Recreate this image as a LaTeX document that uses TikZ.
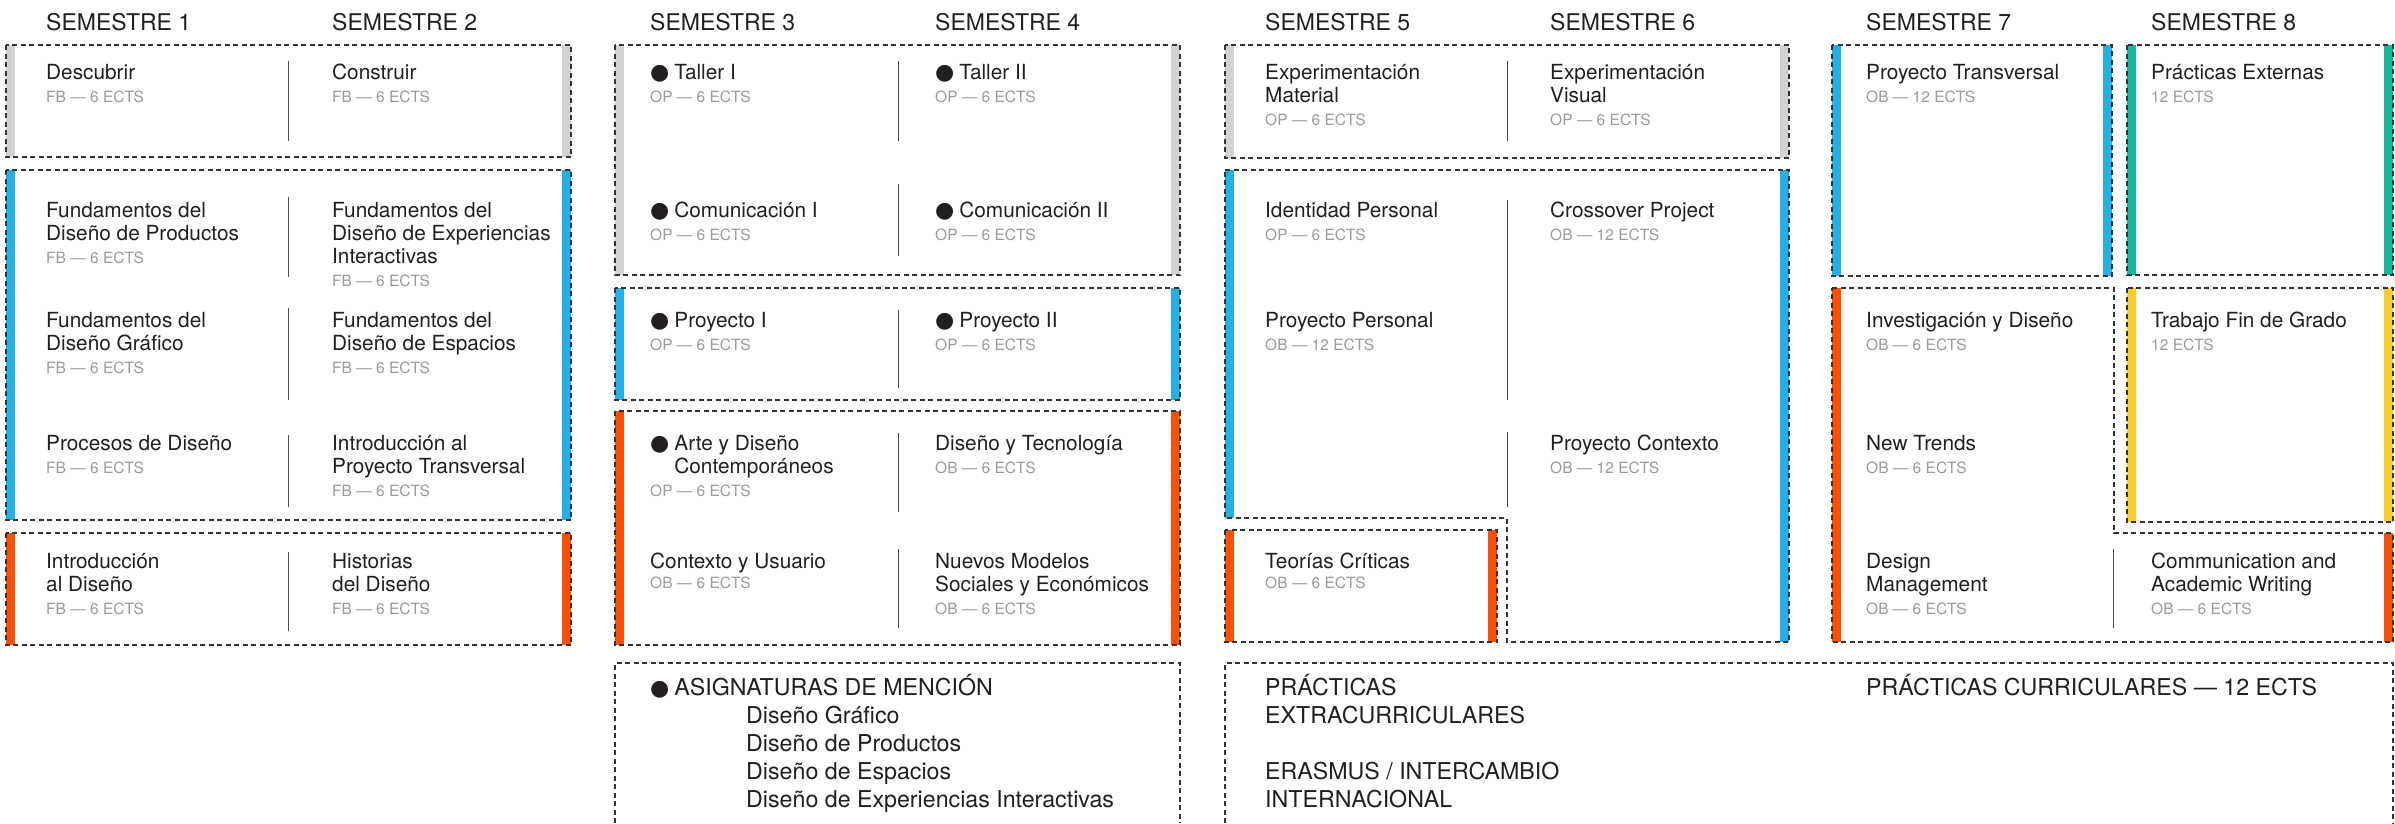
\documentclass[tikz,border=0pt]{standalone}
\usepackage{fontspec}
\setmainfont{TeX Gyre Heros}
\newfontfamily\dejavu{DejaVu Sans}
\definecolor{txt}{HTML}{231F20}
\definecolor{gristxt}{HTML}{9B9B9B}
\definecolor{gris}{HTML}{D0D2D3}
\definecolor{azul}{HTML}{23B0E6}
\definecolor{naranja}{HTML}{FF5000}
\definecolor{verde}{HTML}{14B89A}
\definecolor{amarillo}{HTML}{FCCD29}
\definecolor{borde}{HTML}{333333}
\newcommand{\bul}{{\dejavu\fontsize{22}{22}\selectfont ●}\hspace{5pt}}
\newcommand{\ects}[1]{{\color{gristxt}\fontsize{15.5}{23}\selectfont #1}}
\newcommand{\asig}[3][0pt]{\begin{tabular}[t]{@{}l@{}}#2\\[#1]\ects{#3}\end{tabular}}

\begin{document}
\begin{tikzpicture}[x=1pt,y=-1pt,
    caja/.style={draw=borde, line width=1.4pt, dash pattern=on 5pt off 3.5pt},
    sep/.style={draw=black!70, line width=1pt},
    head/.style={anchor=base west, inner sep=0pt, text=txt, font=\fontsize{23}{28}\selectfont},
    materia/.style={anchor=base west, inner sep=0pt, text=txt, font=\fontsize{20.8}{23}\selectfont},
    grande/.style={anchor=base west, inner sep=0pt, text=txt, font=\fontsize{23.2}{28}\selectfont}]
  \path[use as bounding box, fill=white] (0,0) rectangle (2395,823);

  \foreach \x/\n in {46/1,332/2,650/3,935/4,1265/5,1550/6,1866/7,2151/8}
    \node[head] (sem\n) at (\x,30) {SEMESTRE \n};

  % bloques con barra de color a ambos lados
  \foreach \xa/\ya/\xb/\yb/\col in {6/45/571/157/gris, 6/170/571/520/azul, 6/533/571/645/naranja,
      615/45/1180/275/gris, 615/288/1180/400/azul, 615/411/1180/645/naranja,
      1225/45/1789/158/gris, 1225/530/1497/642/naranja,
      1832/45/2112/276/azul, 2127/45/2393/275/verde, 2127/288/2393/522/amarillo}{
    \fill[\col] (\xa,\ya) rectangle (\xa+9,\yb);
    \fill[\col] (\xb-9,\ya) rectangle (\xb,\yb);
    \draw[caja] (\xa,\ya) rectangle (\xb,\yb);
  }
  \fill[azul] (1225,170) rectangle (1234,518);
  \fill[azul] (1780,170) rectangle (1789,642);
  \draw[caja] (1225,170) -- (1789,170) -- (1789,642) -- (1507,642) -- (1507,518) -- (1225,518) -- cycle;
  \fill[naranja] (1832,288) rectangle (1841,642);
  \fill[naranja] (2384,533) rectangle (2393,642);
  \draw[caja] (1832,288) -- (2114,288) -- (2114,533) -- (2393,533) -- (2393,642) -- (1832,642) -- cycle;
  \draw[caja] (615,823) -- (615,663) -- (1180,663) -- (1180,823);
  \draw[caja] (1225,823) -- (1225,663) -- (2393,663) -- (2393,823);

  \foreach \x/\ya/\yb in {288/61/141, 288/197/277, 288/308/400, 288/435/507, 288/552/631,
      898/61/141, 898/184/256, 898/310/388, 898/433/512, 898/549/628,
      1507/61/141, 1507/200/400, 1507/432/507, 2113/549/628}
    \draw[sep] (\x,\ya) -- (\x,\yb);

  % semestres 1 y 2
  \node[materia] (descubrir) at (46,79) {\asig{Descubrir}{FB — 6 ECTS}};
  \node[materia] (construir) at (332,79) {\asig{Construir}{FB — 6 ECTS}};
  \node[materia] (fdprod) at (46,217) {\asig{Fundamentos del\\Diseño de Productos}{FB — 6 ECTS}};
  \node[materia] (fdexp) at (332,217) {\asig{Fundamentos del\\Diseño de Experiencias\\Interactivas}{FB — 6 ECTS}};
  \node[materia] (fdgraf) at (46,327) {\asig{Fundamentos del\\Diseño Gráfico}{FB — 6 ECTS}};
  \node[materia] (fdesp) at (332,327) {\asig{Fundamentos del\\Diseño de Espacios}{FB — 6 ECTS}};
  \node[materia] (procesos) at (46,450) {\asig{Procesos de Diseño}{FB — 6 ECTS}};
  \node[materia] (intropt) at (332,450) {\asig{Introducción al\\Proyecto Transversal}{FB — 6 ECTS}};
  \node[materia] (introdis) at (46,568) {\asig{Introducción\\al Diseño}{FB — 6 ECTS}};
  \node[materia] (historias) at (332,568) {\asig{Historias\\del Diseño}{FB — 6 ECTS}};

  % semestres 3 y 4
  \node[materia] (taller1) at (650,79) {\asig{\bul Taller I}{OP — 6 ECTS}};
  \node[materia] (taller2) at (935,79) {\asig{\bul Taller II}{OP — 6 ECTS}};
  \node[materia] (com1) at (650,217) {\asig{\bul Comunicación I}{OP — 6 ECTS}};
  \node[materia] (com2) at (935,217) {\asig{\bul Comunicación II}{OP — 6 ECTS}};
  \node[materia] (proy1) at (650,327) {\asig{\bul Proyecto I}{OP — 6 ECTS}};
  \node[materia] (proy2) at (935,327) {\asig{\bul Proyecto II}{OP — 6 ECTS}};
  \node[materia] (arte) at (650,450) {\asig{\bul Arte y Diseño\\\hphantom{\bul}Contemporáneos}{OP — 6 ECTS}};
  \node[materia] (tecno) at (935,450) {\asig{Diseño y Tecnología}{OB — 6 ECTS}};
  \node[materia] (contexto) at (650,568) {\asig[-3pt]{Contexto y Usuario}{OB — 6 ECTS}};
  \node[materia] (modelos) at (935,568) {\asig{Nuevos Modelos\\Sociales y Económicos}{OB — 6 ECTS}};
  \node[grande] (mencion) at (650,695) {\begin{tabular}[t]{@{}l@{}}\bul ASIGNATURAS DE MENCIÓN\\
      \hspace{96pt}Diseño Gráfico\\\hspace{96pt}Diseño de Productos\\
      \hspace{96pt}Diseño de Espacios\\\hspace{96pt}Diseño de Experiencias Interactivas\end{tabular}};

  % semestres 5 y 6
  \node[materia] (expmat) at (1265,79) {\asig{Experimentación\\Material}{OP — 6 ECTS}};
  \node[materia] (expvis) at (1550,79) {\asig{Experimentación\\Visual}{OP — 6 ECTS}};
  \node[materia] (identidad) at (1265,217) {\asig{Identidad Personal}{OP — 6 ECTS}};
  \node[materia] (proypers) at (1265,327) {\asig{Proyecto Personal}{OB — 12 ECTS}};
  \node[materia] (crossover) at (1550,217) {\asig{Crossover Project}{OB — 12 ECTS}};
  \node[materia] (proycont) at (1550,450) {\asig{Proyecto Contexto}{OB — 12 ECTS}};
  \node[materia] (teorias) at (1265,568) {\asig[-3pt]{Teorías Críticas}{OB — 6 ECTS}};
  \node[grande] (extra) at (1265,695) {\begin{tabular}[t]{@{}l@{}}PRÁCTICAS\\EXTRACURRICULARES\\[28pt]
      ERASMUS / INTERCAMBIO\\INTERNACIONAL\end{tabular}};

  % semestres 7 y 8
  \node[materia] (transversal) at (1866,79) {\asig{Proyecto Transversal}{OB — 12 ECTS}};
  \node[materia] (externas) at (2151,79) {\asig{Prácticas Externas}{12 ECTS}};
  \node[materia] (investigacion) at (1866,327) {\asig{Investigación y Diseño}{OB — 6 ECTS}};
  \node[materia] (tfg) at (2151,327) {\asig{Trabajo Fin de Grado}{12 ECTS}};
  \node[materia] (trends) at (1866,450) {\asig{New Trends}{OB — 6 ECTS}};
  \node[materia] (management) at (1866,568) {\asig{Design\\Management}{OB — 6 ECTS}};
  \node[materia] (writing) at (2151,568) {\asig{Communication and\\Academic Writing}{OB — 6 ECTS}};
  \node[grande] (curriculares) at (1866,695) {PRÁCTICAS CURRICULARES — 12 ECTS};
\end{tikzpicture}
\end{document}
